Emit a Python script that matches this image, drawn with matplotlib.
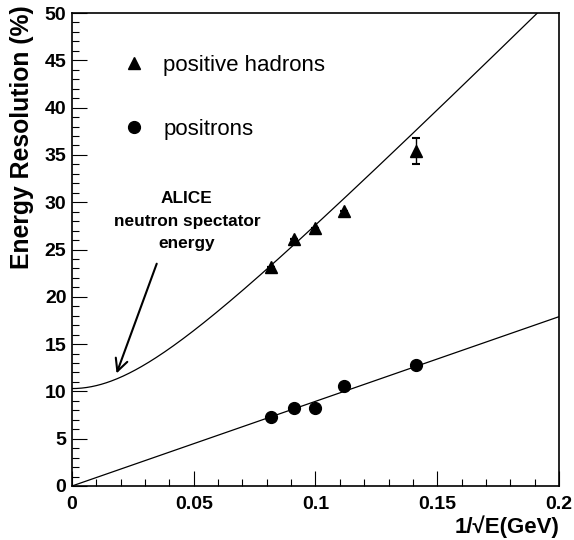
import numpy as np
import matplotlib
matplotlib.use("Agg")
import matplotlib.pyplot as plt

plt.rcParams['font.family'] = ['Liberation Sans', 'DejaVu Sans']

# measured points, x = 1/sqrt(E)
x_hadrons = [0.0816, 0.0913, 0.1000, 0.1118, 0.1414]
res_hadrons = [23.2, 26.1, 27.3, 29.1, 35.4]
err_hadrons = [0.0, 0.0, 0.0, 0.0, 1.4]

x_positrons = [0.0816, 0.0913, 0.1000, 0.1118, 0.1414]
res_positrons = [7.3, 8.2, 8.2, 10.6, 12.8]

# fit parameters
hadron_const = 10.3      # % at x = 0
hadron_stoch = 256.0     # %/sqrt(GeV), added in quadrature
positron_slope = 89.5    # %/sqrt(GeV), straight line through 0

arrow_tip = (0.0183, 11.9)
arrow_tail = (0.0348, 23.5)

fig = plt.figure(figsize=(5.74, 5.40), dpi=100)
ax = fig.add_axes([0.1254, 0.100, 0.8485, 0.8759])

xf = np.linspace(0, 0.2, 400)
ax.plot(xf, np.sqrt(hadron_const**2 + (hadron_stoch * xf)**2), color='black', lw=0.9)
ax.plot(xf, positron_slope * xf, color='black', lw=0.9)

ax.errorbar(x_hadrons, res_hadrons, yerr=err_hadrons, fmt='none', ecolor='black',
            elinewidth=1.0, capsize=3, capthick=1.5)
h_had, = ax.plot(x_hadrons, res_hadrons, '^', color='black', ms=8,
                 label='positive hadrons')
h_pos, = ax.plot(x_positrons, res_positrons, 'o', color='black', ms=8.5,
                 label='positrons')

ax.text(0.0472, 28.0, 'ALICE\nneutron spectator\nenergy', ha='center', va='center',
        fontsize=12.4, fontweight='bold', linespacing=1.6)
ax.annotate('', xy=arrow_tip, xytext=arrow_tail,
            arrowprops=dict(arrowstyle='->', color='black', lw=1.5,
                            mutation_scale=22, shrinkA=0, shrinkB=0))

ax.legend([h_had, h_pos], ['positive hadrons', 'positrons'], loc='upper left',
          bbox_to_anchor=(0.105, 0.912), frameon=False, fontsize=16,
          handlelength=1.0, handletextpad=0.8, labelspacing=1.95,
          borderpad=0, borderaxespad=0)

ax.set_xlim(0, 0.2)
ax.set_ylim(0, 50)
ax.set_xticks([0, 0.05, 0.1, 0.15, 0.2])
ax.set_xticklabels(['0', '0.05', '0.1', '0.15', '0.2'])
ax.set_xticks(np.arange(0, 0.2001, 0.01), minor=True)
ax.set_yticks(np.arange(0, 51, 5))
ax.set_yticks(np.arange(0, 51, 1), minor=True)

ax.tick_params(which='both', direction='in', top=False, right=False, width=0.8,
               labelsize=14)
ax.tick_params(which='major', length=10.5)
ax.tick_params(which='minor', length=5)
ax.tick_params(axis='x', pad=7)
ax.tick_params(axis='y', pad=4)
for lbl in ax.get_xticklabels() + ax.get_yticklabels():
    lbl.set_fontweight('bold')
for sp in ax.spines.values():
    sp.set_linewidth(1.2)

ax.set_xlabel('1/\u221aE(GeV)', fontsize=16, fontweight='bold', loc='right')
ax.xaxis.set_label_coords(1.0, -0.062)
ax.set_ylabel('Energy Resolution (%)', fontsize=17.8, fontweight='bold', loc='top')
ax.yaxis.set_label_coords(-0.078, 1.017)

fig.savefig('out.png', dpi=100)
